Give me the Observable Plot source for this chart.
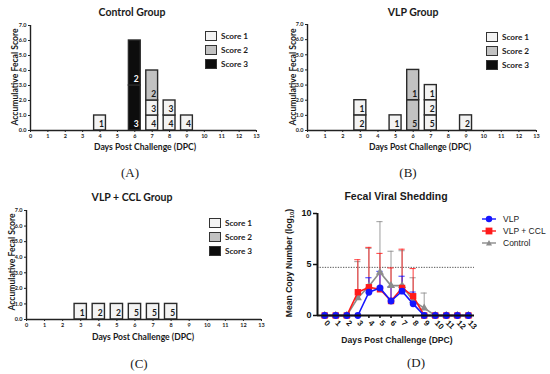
<!DOCTYPE html>
<html><head><meta charset="utf-8">
<script src="https://cdn.jsdelivr.net/npm/d3@7"></script>
<script src="https://cdn.jsdelivr.net/npm/@observablehq/plot@0.6"></script>
<style>
html,body{margin:0;padding:0;background:#fff;}
#root{position:relative;width:550px;height:374px;overflow:hidden;background:#fff;}
.lbl{position:absolute;white-space:nowrap;line-height:1;color:#1a1a1a;}
.cal{font-family:Lato,"Open Sans",sans-serif;font-weight:bold;}
.ari{font-family:"Liberation Sans",Arial,sans-serif;font-weight:bold;}
.title{font-size:10.5px;}
.axl{font-size:8.6px;}
.leg{font-size:8.2px;}
.pan{font-family:"Liberation Serif","Times New Roman",serif;font-size:13px;}
.box{position:absolute;width:10px;height:8px;border:1.5px solid #333;}
sub{font-size:6px;}
</style></head><body><div id="root"></div>
<script>
// ---------- data ----------
const days = [0,1,2,3,4,5,6,7,8,9,10,11,12,13];
const scoreTicks = [0,1,2,3,4,5,6,7];
const scoreNames = ["Score 1","Score 2","Score 3"];
const scoreColors = ["#f3f3f3","#c2c2c2","#0d0d0d"];
// segments: [day, bottom, top, score, count]
const controlSegments = [[4,0,1,1,1],[6,0,3,3,3],[6,3,6,3,2],[7,0,1,1,4],[7,1,2,1,3],[7,2,4,2,2],[8,0,1,1,4],[8,1,2,1,3],[9,0,1,1,4]];
const vlpSegments = [[3,0,1,1,2],[3,1,2,1,1],[5,0,1,1,1],[6,0,2,2,5],[6,2,4,2,1],[7,0,1,1,5],[7,1,2,1,2],[7,2,3,1,1],[9,0,1,1,2]];
const cclSegments = [[3,0,1,1,1],[4,0,1,1,2],[5,0,1,1,2],[6,0,1,1,5],[7,0,1,1,5],[8,0,1,1,5]];

const dpc = [0,1,2,3,4,5,6,7,8,9,10,11,12,13];
const vlpMean  = [0,0,0,0,2.28,2.7,1.42,2.38,1.14,0,0,0,0,0];
const vlpUpper = [null,null,null,null,3.7,4.33,2.83,3.85,2.3,null,null,null,null,null];
const cclMean  = [0,0,0,2.28,2.77,2.57,1.42,2.7,1.89,0,0,0,0,0];
const cclUpper = [null,null,null,5.47,6.68,6.09,4.66,6.5,4.6,null,null,null,null,null];
const ctrlMean  = [0,0,0,1.73,2.87,4.23,2.93,2.93,1.45,0.72,0,0,0,0];
const ctrlUpper = [null,null,null,5.28,6.58,9.2,6.3,6.35,3.7,2.2,null,null,null,null];
const threshold = 4.72;
const yTicksD = [0,5,10];

// ---------- helpers ----------
const root = document.getElementById("root");
function addNode(node, left, top){ node.style.position="absolute"; node.style.left=left+"px"; node.style.top=top+"px"; root.appendChild(node); }
function label(html, x, y, cls, rot){
  const d=document.createElement("div"); d.className="lbl "+cls; d.innerHTML=html;
  d.style.left=x+"px"; d.style.top=y+"px";
  d.style.transform="translate(-50%,-50%)"+(rot?" rotate(-90deg)":"");
  root.appendChild(d);
}
function textLeft(html, x, y, cls){
  const d=document.createElement("div"); d.className="lbl "+cls; d.innerHTML=html;
  d.style.left=x+"px"; d.style.top=y+"px"; d.style.transform="translate(0,-50%)";
  root.appendChild(d);
}

// ---------- bar panels ----------
function barPanel(segs, p){
  const data = segs.map(([day,y1,y2,score,n])=>({day,y1,y2,score,n}));
  const svg = Plot.plot({
    width:p.w, height:p.h, marginLeft:p.ml, marginRight:p.mr, marginTop:p.mt, marginBottom:p.mb,
    x:{domain:[0,13]}, y:{domain:[0,7]},
    color:{type:"identity"},
    style:{fontFamily:"Lato, sans-serif", fontSize:"5.5px", fontWeight:"bold", color:"#222", background:"transparent"},
    marks:[
      Plot.axisX({ticks:days, tickSize:2, tickPadding:2, label:null, tickFormat:d=>d}),
      Plot.axisY({ticks:scoreTicks, tickSize:2, tickPadding:2, label:null}),
      Plot.rect(data,{x1:d=>d.day-0.34, x2:d=>d.day+0.34, y1:"y1", y2:"y2",
        fill:d=>scoreColors[d.score-1], stroke:"#2a2a2a", strokeWidth:1.4}),
      Plot.text(data,{x:d=>d.day, y:"y1", text:"n", dx:1.5, dy:-6, fontSize:8.5, fontWeight:"bold",
        fontFamily:"Lato, sans-serif", fill:d=>d.score===3?"#ffffff":"#1a1a1a"}),
      Plot.ruleY([0],{stroke:"#222", strokeWidth:1.4}),
      Plot.ruleX([0],{stroke:"#222", strokeWidth:1.4})
    ]
  });
  addNode(svg, p.left, p.top);
}
const panels = [
  {segs:controlSegments, left:0, top:0, w:275, h:160, ml:30, mr:19, mt:25, mb:30,
   title:"Control Group", tx:132, ty:12, xl:[145,147], yl:[15,77], lg:[205,36,14], tag:"(A)", tag_xy:[130,172]},
  {segs:vlpSegments, left:275, top:0, w:275, h:160, ml:32, mr:14, mt:24, mb:30,
   title:"VLP Group", tx:413, ty:12, xl:[420,147], yl:[293,77], lg:[486,37,14], tag:"(B)", tag_xy:[408,172]},
  {segs:cclSegments, left:0, top:180, w:275, h:160, ml:26, mr:14, mt:30, mb:21,
   title:"VLP + CCL Group", tx:132, ty:197, xl:[143,337], yl:[12,262], lg:[209,223,14], tag:"(C)", tag_xy:[139,363]}
];
for (const p of panels) barPanel(p.segs, p);

// ---------- panel D ----------
const seriesDefs = [
  {name:"Control", mean:ctrlMean, upper:ctrlUpper, color:"#8c8c8c", symbol:"triangle", r:3},
  {name:"VLP + CCL", mean:cclMean, upper:cclUpper, color:"#ff1a1a", symbol:"square", r:3.6},
  {name:"VLP", mean:vlpMean, upper:vlpUpper, color:"#1515ff", symbol:"circle", r:3.4}
];
const dMarks = [
  Plot.axisX({ticks:dpc, tickSize:3, label:null, strokeWidth:1.5, text:null}),
  Plot.text(dpc,{x:d=>d, frameAnchor:"bottom", text:d=>String(d), rotate:45, textAnchor:"start",
    dx:-1, dy:8, fontSize:8, fontWeight:"bold"}),
  Plot.axisY({ticks:yTicksD, tickSize:4, tickPadding:2, label:null, strokeWidth:1.5, fontSize:9}),
  Plot.ruleY([threshold],{stroke:"#555", strokeWidth:1, strokeDasharray:"1.3,1.3"})
];
for (const s of seriesDefs){
  const data = dpc.map((d,i)=>({day:d, mean:s.mean[i], upper:s.upper[i]}));
  const err = data.filter(d=>d.upper!=null);
  dMarks.push(
    Plot.ruleX(err,{x:"day", y1:"mean", y2:"upper", stroke:s.color, strokeWidth:1, strokeOpacity:0.85}),
    Plot.ruleY(err,{y:"upper", x1:d=>d.day-0.28, x2:d=>d.day+0.28, stroke:s.color, strokeWidth:1, strokeOpacity:0.85})
  );
}
for (const s of seriesDefs){
  const data = dpc.map((d,i)=>({day:d, mean:s.mean[i]}));
  dMarks.push(
    Plot.line(data,{x:"day", y:"mean", stroke:s.color, strokeWidth:1.6}),
    Plot.dot(data,{x:"day", y:"mean", symbol:s.symbol, r:s.r, fill:s.color, stroke:"none"})
  );
}
dMarks.push(Plot.ruleY([0],{stroke:"#111", strokeWidth:2}), Plot.ruleX([-0.65],{stroke:"#111", strokeWidth:2}));
const dSvg = Plot.plot({
  width:275, height:180, marginLeft:42, marginRight:76, marginTop:33, marginBottom:45,
  x:{domain:[-0.65,13.55]}, y:{domain:[0,10]},
  style:{fontFamily:"'Liberation Sans', Arial, sans-serif", fontSize:"8px", fontWeight:"bold", color:"#111", background:"transparent"},
  marks:dMarks
});
addNode(dSvg, 275, 180);

// ---------- texts ----------
for (const p of panels){
  label(p.title, p.tx, p.ty, "cal title");
  label("Days Post Challenge (DPC)", p.xl[0], p.xl[1], "cal axl");
  label("Accumulative Fecal Score", p.yl[0], p.yl[1], "cal axl", true);
  label(p.tag, p.tag_xy[0], p.tag_xy[1], "pan");
  const [lx, ly, step] = p.lg;
  scoreNames.forEach((nm,i)=>{
    const b=document.createElement("div"); b.className="box"; b.style.background=scoreColors[i];
    b.style.left=lx+"px"; b.style.top=(ly+i*step-5)+"px"; root.appendChild(b);
    textLeft(nm, lx+16, ly+i*step, "cal leg");
  });
}
label("Fecal Viral Shedding", 396, 196, "ari title");
label("Days Post Challenge (DPC)", 397, 340, "ari axl");
label("Mean Copy Number (log<sub>10</sub>)", 290, 263, "ari axl", true);
label("(D)", 416, 362, "pan");
const legendOrder = [seriesDefs[2], seriesDefs[1], seriesDefs[0]];
legendOrder.forEach((s,i)=>{
  const y = 219 + i*12;
  let marker;
  if (s.symbol==="circle") marker = `<circle cx="7" cy="7" r="3.2" fill="${s.color}"/>`;
  else if (s.symbol==="square") marker = `<rect x="3.6" y="3.6" width="6.8" height="6.8" fill="${s.color}"/>`;
  else marker = `<path d="M7,4 L10,9.5 L4,9.5 Z" fill="${s.color}"/>`;
  const d=document.createElement("div");
  d.innerHTML = `<svg width="14" height="14"><line x1="0" y1="7" x2="14" y2="7" stroke="${s.color}" stroke-width="1.4"/>${marker}</svg>`;
  d.style.position="absolute"; d.style.left="482px"; d.style.top=(y-7)+"px"; d.style.lineHeight="0";
  root.appendChild(d);
  const t=document.createElement("div"); t.className="lbl"; t.textContent=s.name;
  t.style.fontFamily="'Liberation Sans', Arial, sans-serif"; t.style.fontSize="8.5px";
  t.style.left="503px"; t.style.top=y+"px"; t.style.transform="translate(0,-50%)";
  root.appendChild(t);
});
</script></body></html>
